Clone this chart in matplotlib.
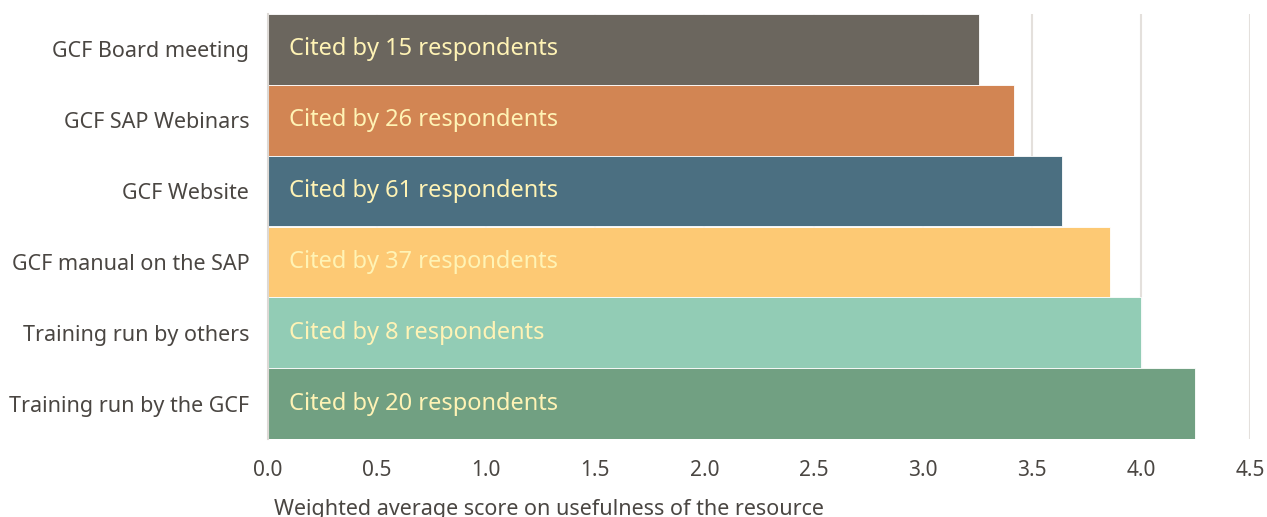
import matplotlib
matplotlib.use("Agg")
import matplotlib.pyplot as plt

categories = ["GCF Board meeting", "GCF SAP Webinars", "GCF Website",
              "GCF manual on the SAP", "Training run by others", "Training run by the GCF"]
scores = [3.26, 3.42, 3.64, 3.86, 4.00, 4.25]
respondents = [15, 26, 61, 37, 8, 20]
colors = ["#6B665E", "#D28553", "#4B6F81", "#FDC974", "#92CCB5", "#71A082"]
xticks = [0.0, 0.5, 1.0, 1.5, 2.0, 2.5, 3.0, 3.5, 4.0, 4.5]
xlabel = "Weighted average score on usefulness of the resource"

plt.rcParams['font.family'] = ['Noto Sans', 'DejaVu Sans']
txt = "#4A4642"

fig = plt.figure(figsize=(12.67, 5.17), dpi=100)
ax = fig.add_axes([268/1267, 1-439/517, (1250-268)/1267, (439-14)/517])

ypos = list(range(len(categories)))
ax.barh(ypos, scores, height=1.0, color=colors, zorder=2, edgecolor='white', linewidth=0.6)
for y, n in zip(ypos, respondents):
    ax.annotate(f"Cited by {n} respondents", xy=(0, y), xytext=(15, 0),
                textcoords='offset points', va='center', ha='left',
                color="#FFF3B5", fontsize=17)

ax.set_ylim(len(categories)-0.5, -0.5)
ax.set_xlim(0, 4.5)
ax.set_yticks(ypos)
ax.set_yticklabels(categories, fontsize=15.5, color=txt)
ax.set_xticks(xticks)
ax.set_xticklabels([f"{t:.1f}" for t in xticks], fontsize=15, color=txt)
ax.tick_params(axis='both', length=0)
ax.tick_params(axis='y', pad=13.5)
ax.tick_params(axis='x', pad=15)
ax.grid(axis='x', color="#E4E0DC", linewidth=1.5, zorder=0)
for s in ['top', 'right', 'bottom']:
    ax.spines[s].set_visible(False)
ax.spines['left'].set_color("#DDD9D5")
ax.spines['left'].set_linewidth(1.5)

fig.text(549/1267, 1-509/517, xlabel, ha='center', va='center', fontsize=15.5, color=txt)

fig.savefig("out.png", dpi=100)
